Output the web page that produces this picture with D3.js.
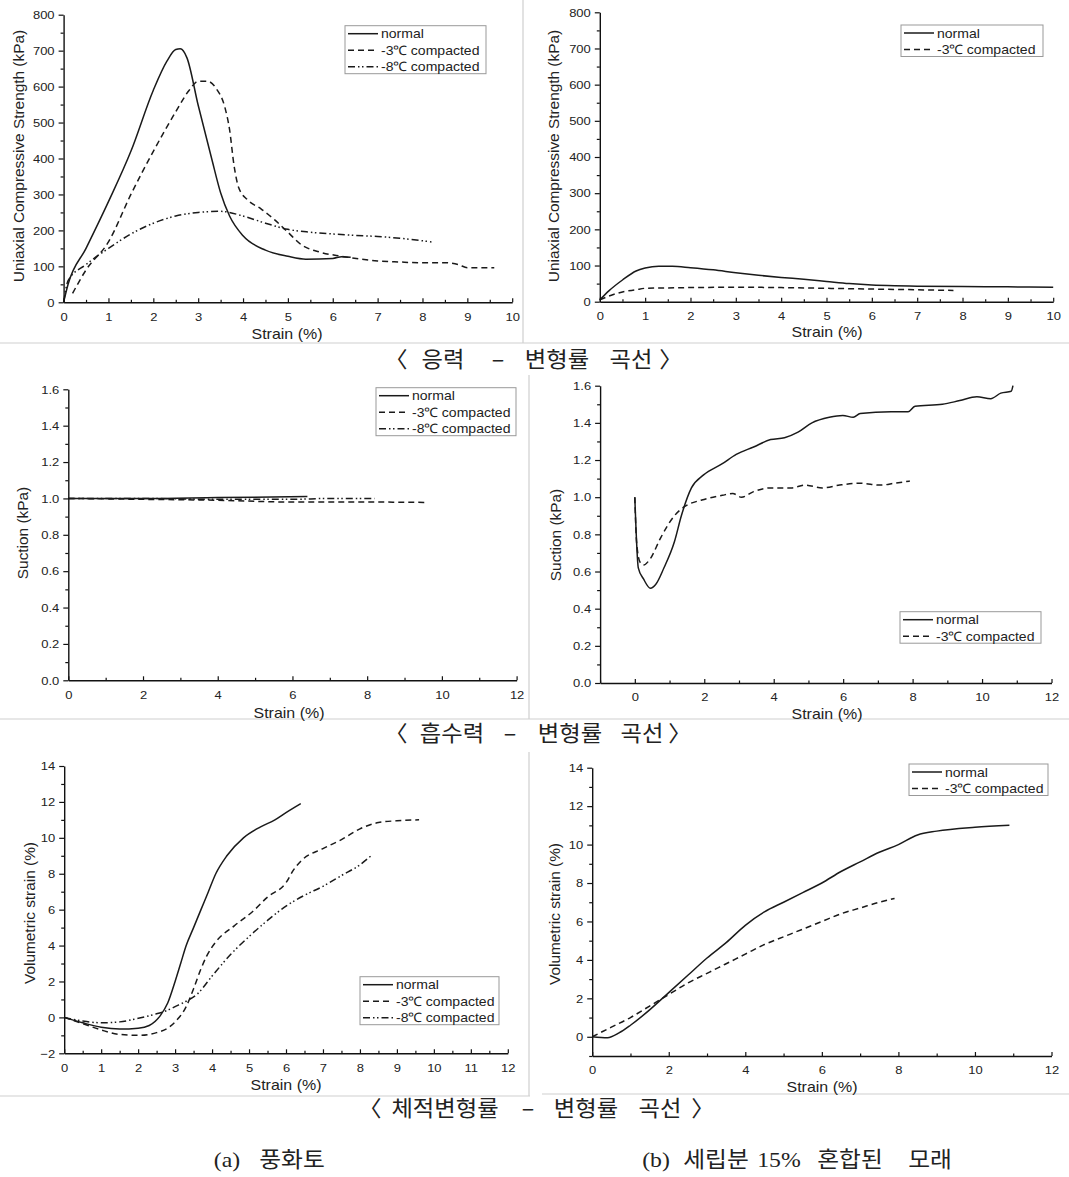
<!DOCTYPE html>
<html><head><meta charset="utf-8">
<script src="https://cdn.jsdelivr.net/npm/d3@7"></script>
<style>
body{margin:0;background:#fff;}
svg{display:block;font-family:"Liberation Sans",Arial,sans-serif;}
</style></head><body>
<svg id="c" width="1069" height="1177"></svg>
<script>
// ---------------- DATA ----------------
const seriesNames3 = ["normal", "-3℃ compacted", "-8℃ compacted"];
const seriesNames2 = ["normal", "-3℃ compacted"];

// Stress-strain, weathered soil (a)
const ssA_normal = [[0,0],[0.1,50],[0.5,150],[1.0,280],[1.5,420],[2.0,590],[2.3,670],[2.5,703],[2.6,705],[2.75,680],[3.0,548],[3.3,400],[3.5,305],[3.7,240],[4.0,185],[4.5,145],[5.0,128],[5.4,120],[6.0,122],[6.2,127],[6.4,125]];
const ssA_m3 = [[0.2,25],[0.5,90],[1.0,168],[1.5,300],[2.0,420],[2.5,530],[2.8,590],[3.0,615],[3.2,615],[3.4,595],[3.6,540],[3.7,480],[3.8,380],[3.9,320],[4.1,285],[4.4,260],[4.7,230],[5.0,195],[5.3,160],[5.7,140],[6.2,128],[7.0,115],[7.5,112],[8.0,110],[8.5,110],[8.8,105],[9.0,96],[9.6,96]];
const ssA_m8 = [[0,0],[0.1,60],[0.5,105],[1.0,150],[1.5,190],[2.0,220],[2.5,240],[3.0,250],[3.5,253],[4.0,240],[4.5,220],[5.0,203],[5.5,195],[6.0,190],[6.5,186],[7.0,183],[7.5,178],[8.2,168]];
// Stress-strain, sand with 15% fines (b)
const ssB_normal = [[0,5],[0.2,30],[0.5,60],[0.8,85],[1.0,93],[1.3,98],[1.6,98],[2.0,94],[2.5,88],[3.0,80],[3.5,73],[4.0,67],[4.5,62],[5.0,56],[5.5,50],[6.0,46],[6.5,44],[7.0,43],[8.0,42],[9.0,41],[10.0,40]];
const ssB_m3 = [[0,5],[0.3,20],[0.5,27],[0.8,33],[1.0,37],[1.5,38],[2.0,39],[3.0,40],[4.0,39],[5.0,37],[6.0,35],[7.0,33],[7.8,31]];
// Suction-strain (a)
const suA_normal = [[0,1.0],[2,1.0],[4,1.005],[6.4,1.01]];
const suA_m3 = [[0,1.0],[2,0.995],[4,0.99],[6,0.98],[8,0.98],[9.6,0.978]];
const suA_m8 = [[0,1.0],[2,1.0],[4,0.995],[6,0.995],[7,1.0],[8.2,1.0]];
// Suction-strain (b)
const suB_normal = [[0,1.0],[0.1,0.62],[0.25,0.56],[0.45,0.51],[0.6,0.53],[0.84,0.62],[1.14,0.76],[1.34,0.9],[1.63,1.05],[1.98,1.12],[2.52,1.18],[2.92,1.23],[3.42,1.27],[3.91,1.31],[4.31,1.32],[4.7,1.35],[5.1,1.4],[5.6,1.43],[5.99,1.44],[6.29,1.43],[6.49,1.45],[7.38,1.46],[7.87,1.46],[8.07,1.49],[8.86,1.5],[9.36,1.52],[9.85,1.54],[10.25,1.53],[10.54,1.56],[10.84,1.57],[10.89,1.6]];
const suB_m3 = [[0,1.0],[0.05,0.76],[0.15,0.65],[0.25,0.635],[0.45,0.67],[0.74,0.78],[1.14,0.9],[1.44,0.95],[1.93,0.985],[2.52,1.01],[2.82,1.02],[3.07,1.0],[3.42,1.03],[3.91,1.05],[4.5,1.05],[4.9,1.065],[5.4,1.05],[5.9,1.065],[6.49,1.075],[7.08,1.065],[7.48,1.075],[7.92,1.087]];
// Volumetric strain-strain (a)
const vsA_normal = [[0,0],[0.5,-0.3],[1,-0.55],[1.5,-0.65],[2,-0.6],[2.3,-0.45],[2.6,0.1],[2.8,0.8],[3.0,2.0],[3.15,3.0],[3.3,4.0],[3.5,5.0],[3.7,6.0],[3.9,7.0],[4.1,8.0],[4.4,9.0],[4.85,10.0],[5.3,10.6],[5.7,11.0],[6.0,11.4],[6.4,11.9]];
const vsA_m3 = [[0,0],[0.5,-0.35],[1,-0.7],[1.5,-0.95],[2,-1.0],[2.5,-0.85],[2.8,-0.6],[3.0,-0.25],[3.3,0.6],[3.5,1.6],[3.7,2.7],[3.85,3.4],[4.1,4.2],[4.6,5.1],[5.1,5.9],[5.5,6.7],[6.0,7.5],[6.2,8.2],[6.4,8.7],[7.0,9.4],[7.5,9.9],[8.0,10.5],[8.5,10.85],[9.0,10.95],[9.6,11.0]];
const vsA_m8 = [[0,0],[0.5,-0.2],[1,-0.3],[1.5,-0.25],[2,-0.05],[2.5,0.2],[2.8,0.4],[3.0,0.6],[3.3,0.9],[3.6,1.3],[4.0,2.3],[4.5,3.5],[5.0,4.5],[5.5,5.4],[6.0,6.2],[6.5,6.8],[7.0,7.3],[7.5,7.9],[8.0,8.5],[8.3,9.0]];
// Volumetric strain-strain (b)
const vsB_normal = [[0,0],[0.4,-0.05],[0.7,0.2],[1,0.6],[1.5,1.4],[2,2.3],[2.5,3.2],[3,4.1],[3.5,4.9],[4,5.8],[4.5,6.5],[5,7.0],[5.5,7.5],[6,8.0],[6.5,8.6],[7,9.1],[7.5,9.6],[8,10.0],[8.5,10.5],[9,10.7],[10,10.9],[10.9,11.0]];
const vsB_m3 = [[0,0],[0.5,0.5],[1,1.0],[1.5,1.6],[2,2.2],[2.5,2.8],[3,3.3],[3.5,3.8],[4,4.3],[4.5,4.8],[5,5.2],[5.5,5.6],[6,6.0],[6.5,6.4],[7,6.7],[7.5,7.0],[7.9,7.2]];

const xTitle = "Strain (%)";
const yTitles = ["Uniaxial Compressive Strength (kPa)", "Suction (kPa)", "Volumetric strain (%)"];
const rowCaptionTokens = [
  ["〈", "응력", "–", "변형률", "곡선", "〉"],
  ["〈", "흡수력", "–", "변형률", "곡선", "〉"],
  ["〈", "체적변형률", "–", "변형률", "곡선", "〉"]
];
const colCaptionTokens = [
  ["(a)", "풍화토"],
  ["(b)", "세립분", "15%", "혼합된", "모래"]
];

// ---------------- LAYOUT ----------------
const styles = ["", "6,4", "7,3,1.5,2.5,1.5,3"];
const svg = d3.select("#c");
const SX = 1.1; // horizontal stretch of the original picture's lettering

// light frames of sub-images
const frames = [[523,0,523,343],[0,343,1069,343],[529,375,529,719],[0,719,1069,719],[529,752,529,1096],[0,1096,530,1096],[542,1094,1069,1094]];
svg.append("g").selectAll("line").data(frames).join("line")
  .attr("x1",d=>d[0]).attr("y1",d=>d[1]).attr("x2",d=>d[2]).attr("y2",d=>d[3])
  .attr("stroke","#cfcfcf").attr("stroke-width",1.2);

const panels = [
 {xr:[63.6,512.2], yr:[302.3,14.7], xd:[0,10], yd:[0,800], xMaj:d3.range(0,11,1), xMin:d3.range(0.5,10,1), yMaj:d3.range(0,801,100), yMin:d3.range(50,800,100), yfmt:d3.format("d"),
  series:[ssA_normal,ssA_m3,ssA_m8], names:seriesNames3, yt:yTitles[0], ytPos:[19,156], xtPos:[287,338.5], leg:[345,25.7,141]},
 {xr:[599.8,1053.2], yr:[301.7,12.3], xd:[0,10], yd:[0,800], xMaj:d3.range(0,11,1), xMin:d3.range(0.5,10,1), yMaj:d3.range(0,801,100), yMin:d3.range(50,800,100), yfmt:d3.format("d"),
  series:[ssB_normal,ssB_m3], names:seriesNames2, yt:yTitles[0], ytPos:[554,156], xtPos:[827,337], leg:[901,25,142]},
 {xr:[68.3,516.6], yr:[680.3,389.3], xd:[0,12], yd:[0,1.6], xMaj:d3.range(0,13,2), xMin:d3.range(1,12,2), yMaj:d3.range(0,1.61,0.2), yMin:d3.range(0.1,1.6,0.2), yfmt:d3.format(".1f"),
  series:[suA_normal,suA_m3,suA_m8], names:seriesNames3, yt:yTitles[1], ytPos:[23,533], xtPos:[289,717.5], leg:[376,387.7,140]},
 {xr:[600.1,1051.5], yr:[683,385.7], xd:[-1,12], yd:[0,1.6], xMaj:d3.range(0,13,2), xMin:d3.range(-1,12,2), yMaj:d3.range(0,1.61,0.2), yMin:d3.range(0.1,1.6,0.2), yfmt:d3.format(".1f"),
  series:[suB_normal,suB_m3], names:seriesNames2, yt:yTitles[1], ytPos:[556,535], xtPos:[827,718.5], leg:[900,611.7,141]},
 {xr:[64.2,507.8], yr:[1053.3,766], xd:[0,12], yd:[-2,14], xMaj:d3.range(0,13,1), xMin:d3.range(0.5,12,1), yMaj:d3.range(-2,15,2), yMin:d3.range(-1,14,2), yfmt:d3.format("d"),
  series:[vsA_normal,vsA_m3,vsA_m8], names:seriesNames3, yt:yTitles[2], ytPos:[30,913], xtPos:[286,1090], leg:[360,976.7,139]},
 {xr:[592.2,1051.5], yr:[1056,767.7], xd:[0,12], yd:[-1,14], xMaj:d3.range(0,13,2), xMin:d3.range(1,12,2), yMaj:d3.range(0,15,2), yMin:d3.range(-1,14,2), yfmt:d3.format("d"),
  series:[vsB_normal,vsB_m3], names:seriesNames2, yt:yTitles[2], ytPos:[555,914], xtPos:[822,1092], leg:[909,764,139]}
];

panels.forEach(p => {
  const x = d3.scaleLinear().domain(p.xd).range(p.xr);
  const y = d3.scaleLinear().domain(p.yd).range(p.yr);
  const g = svg.append("g");

  // curves
  const line = d3.line().x(d=>x(d[0])).y(d=>y(d[1])).curve(d3.curveMonotoneX);
  p.series.forEach((s,i) => {
    g.append("path").datum(s).attr("d",line).attr("fill","none")
      .attr("stroke","#1a1a1a").attr("stroke-width",1.5)
      .attr("stroke-dasharray",styles[i]);
  });

  // x axis
  const xa = g.append("g").attr("transform",`translate(0,${p.yr[0]})`);
  xa.call(d3.axisBottom(x).tickValues(p.xMaj).tickSize(-4).tickSizeOuter(0).tickPadding(10).tickFormat(d3.format("d")));
  xa.append("g").call(d3.axisBottom(x).tickValues(p.xMin).tickSize(-2.5).tickFormat("")).select(".domain").remove();
  // y axis
  const ya = g.append("g").attr("transform",`translate(${p.xr[0]},0)`);
  ya.call(d3.axisLeft(y).tickValues(p.yMaj).tickSize(5).tickSizeOuter(0).tickPadding(4).tickFormat(p.yfmt));
  ya.append("g").call(d3.axisLeft(y).tickValues(p.yMin).tickSize(3).tickFormat("")).select(".domain").remove();
  g.selectAll(".domain").attr("stroke","#111").attr("stroke-width",1.4);
  g.selectAll(".tick line").attr("stroke","#111").attr("stroke-width",1.2);
  g.selectAll(".tick text").attr("font-size",11.8).attr("fill","#222").attr("font-family","Liberation Sans, Arial, sans-serif")
    .each(function(){
      const t = d3.select(this);
      const tx = +t.attr("x") || 0, ty = +t.attr("y") || 0;
      t.attr("x",0).attr("y",0).attr("transform",`translate(${tx},${ty}) scale(${SX},1)`);
    });

  // titles
  g.append("text").attr("transform",`translate(${p.xtPos[0]},${p.xtPos[1]}) scale(1.14,1)`).attr("text-anchor","middle")
    .attr("font-size",14).attr("fill","#222").text(xTitle);
  g.append("text").attr("transform",`translate(${p.ytPos[0]},${p.ytPos[1]}) rotate(-90) scale(1.1,1)`)
    .attr("text-anchor","middle").attr("dy","0.35em").attr("font-size",14).attr("fill","#222").text(p.yt);

  // legend
  const [lx,ly,lw] = p.leg;
  const rowH = 16.5;
  const lg = g.append("g");
  lg.append("rect").attr("x",lx).attr("y",ly).attr("width",lw).attr("height",p.names.length*rowH-1.5)
    .attr("fill","#fff").attr("stroke","#999").attr("stroke-width",1);
  p.names.forEach((n,i) => {
    const cy = ly + 8 + i*rowH;
    lg.append("line").attr("x1",lx+3).attr("x2",lx+33).attr("y1",cy).attr("y2",cy)
      .attr("stroke","#1a1a1a").attr("stroke-width",1.5).attr("stroke-dasharray",styles[i]);
    lg.append("text").attr("transform",`translate(${lx+36},${cy}) scale(1.08,1)`).attr("dy","0.35em")
      .attr("font-size",13).attr("fill","#222").text(n);
  });
});

// row captions (token centres)
const capY = [359, 733, 1108];
const capX = [
  [396, 443, 498, 557, 631, 671],
  [396, 452, 510, 570, 642, 680],
  [370, 445, 528, 586, 660, 703]
];
rowCaptionTokens.forEach((toks,i) => {
  toks.forEach((t,j) => {
    svg.append("text").attr("transform",`translate(${capX[i][j]},${capY[i]}) scale(1.06,1)`)
      .attr("dy","0.36em").attr("text-anchor","middle")
      .attr("font-family","'Noto Sans CJK KR', sans-serif").attr("font-size",22).attr("fill","#222").text(t);
  });
});
const colX = [[227, 292], [656, 716, 779, 850, 930]];
colCaptionTokens.forEach((toks,i) => {
  toks.forEach((t,j) => {
    svg.append("text").attr("transform",`translate(${colX[i][j]},1159) scale(1.08,1)`)
      .attr("dy","0.36em").attr("text-anchor","middle")
      .attr("font-family","'Liberation Serif', 'Noto Sans CJK KR', serif").attr("font-size",22).attr("fill","#222").text(t);
  });
});
</script>
</body></html>
